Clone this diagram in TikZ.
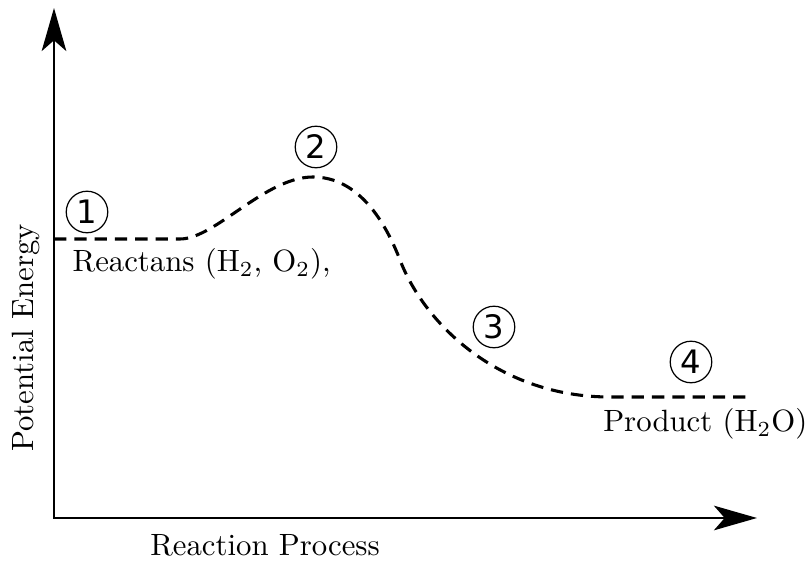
\documentclass[tikz,border=0pt]{standalone}
\usepackage{fontspec}
\newfontfamily\digitfont{DejaVu Sans}
\usetikzlibrary{arrows.meta}

\begin{document}
\begin{tikzpicture}[x=0.325pt,y=0.325pt,>={Stealth[length=14pt,width=8pt,inset=3.5pt]},
  axis/.style={line width=0.7pt},
  energy/.style={line width=1pt,dash pattern=on 4pt off 2.6pt},
  stage/.style={circle,draw,line width=0.4pt,minimum size=13.5pt,inner sep=0pt,font=\digitfont\fontsize{10.5}{12}\selectfont},
  lbl/.style={inner sep=0pt}]
\useasboundingbox (0,0) rectangle (811,563);
% axes
\coordinate (O) at (54,45);
\coordinate (ytip) at (54,555);
\coordinate (xtip) at (757,45);
\draw[axis,<->] (ytip) |- (xtip);
% energy profile
\coordinate (r0) at (54,324);
\coordinate (r1) at (180,324);
\coordinate (peak) at (313,386);
\coordinate (infl) at (400,303);
\coordinate (p0) at (610,166);
\coordinate (p1) at (748,166);
\draw[energy] (r0) -- (r1) .. controls +(35,0) and +(-48,0) .. (peak)
  .. controls +(45,0) and +(-15,39) .. (infl)
  .. controls +(25,-65) and +(-110,0) .. (p0) -- (p1);
% stages
\node[stage] (s1) at (87,351) {1};
\node[stage] (s2) at (316,416) {2};
\node[stage] (s3) at (494,236) {3};
\node[stage] (s4) at (691,201) {4};
% labels
\node[lbl,anchor=base west] (reactant) at (72,291) {Reactans (H$_2$, O$_2$),};
\node[lbl,anchor=base east] (product) at (808,131) {Product (H$_2$O)};
\node[lbl,anchor=base] (xlabel) at (265,7) {Reaction Process};
\node[lbl,anchor=base,rotate=90] (ylabel) at (33,225) {Potential Energy};
\end{tikzpicture}
\end{document}
